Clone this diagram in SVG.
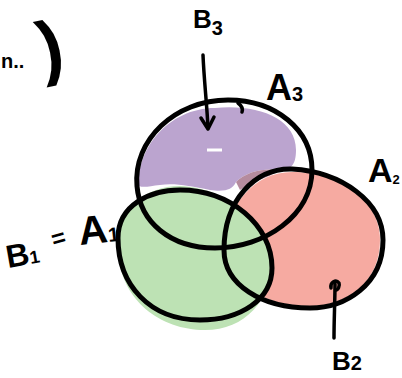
<svg xmlns="http://www.w3.org/2000/svg" width="402" height="378" viewBox="0 0 402 378">
<style>
.ol{fill:none;stroke:#000;stroke-width:5;stroke-linecap:round;stroke-linejoin:round}
.ln{fill:none;stroke:#000;stroke-width:3.5;stroke-linecap:round;stroke-linejoin:round}
.lb{font-family:"Liberation Sans",Arial,sans-serif;font-weight:bold;fill:#000}
</style>
<rect width="402" height="378" fill="#fff"/>
<g id="fills">
<path d="M226,250 C224,205 255,172 292,172 C340,172 380,200 380,240 C380,284 345,306 310,306 C268,306 236,290 226,250 Z" fill="#f6aaa1"/>
<path d="M139,186 C136,150 168,108 215,108 C258,104 296,118 296,150 C296,166 290,170 280,170 C262,168 246,172 236,182 C232,190 225,192 210,190 C190,186 175,183 160,185 C150,186 144,188 139,186 Z" fill="#bba4cf"/>
<path d="M236,182 C246,172 262,168 280,170 C268,178 250,182 240,190 Z" fill="#b58b9e"/>
<path d="M118,250 C114,210 145,186 180,186 C226,188 268,220 270,262 C272,300 245,330 205,330 C160,330 120,300 118,250 Z" fill="#bde2b4"/>
<path d="M207,150 L222,150" stroke="#fff" stroke-width="3"/>
</g>
<g id="A3"><path class="ol" d="M137,186 C133,140 175,100 228,100 C276,100 312,130 312,170 C312,215 265,248 215,248 C170,248 140,222 137,186 Z"/><path class="ln" d="M238,103 C242,106 243,109 242,112" stroke-width="2.5"/></g>
<g id="A2"><path class="ol" d="M224,250 C224,200 255,168 292,169 C342,172 383,202 383,240 C383,285 345,308 310,308 C262,308 224,285 224,250 Z"/></g>
<g id="A1"><path class="ol" d="M118,238 C118,205 150,190 180,190 C230,190 272,225 272,268 C272,300 240,320 200,320 C150,320 118,285 118,238 Z"/></g>
<g id="connectors">
<path class="ln" d="M203,55 C204,80 207,105 208,128"/>
<path class="ln" d="M201,118 L208,129 L214,117"/>
<path class="ln" d="M334,338 C334,320 335,300 335,284"/>
<path class="ln" d="M331,288 C330,282 336,279 339,283 C340,286 338,290 336,290" stroke-width="3"/>
</g>
<g id="labels">
<text class="lb" x="193" y="28" font-size="26">B<tspan font-size="20" dy="7">3</tspan></text>
<text class="lb" x="266" y="100" font-size="36">A<tspan font-size="20" dy="1">3</tspan></text>
<text class="lb" x="368" y="182" font-size="34">A<tspan font-size="13" dy="2">2</tspan></text>
<text class="lb" x="8" y="268" font-size="32" transform="rotate(-10 8 268)">B<tspan font-size="18">1</tspan></text>
<text class="lb" x="52" y="246" font-size="24" transform="rotate(-15 60 240)">=</text>
<text class="lb" x="80" y="245" font-size="40" transform="rotate(-6 80 245)">A<tspan font-size="20">1</tspan></text>
<text class="lb" x="332" y="370" font-size="26">B<tspan font-size="20">2</tspan></text>
<text class="lb" x="1" y="68" font-size="20">n..</text>
<text class="lb" x="38" y="70" font-size="72" font-weight="normal" transform="rotate(-12 55 45)">)</text>
</g>
</svg>
